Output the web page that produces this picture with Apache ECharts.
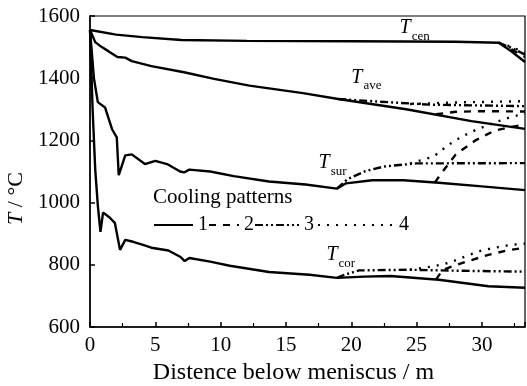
<!DOCTYPE html>
<html>
<head>
<meta charset="utf-8">
<script src="https://cdn.jsdelivr.net/npm/echarts@6/dist/echarts.min.js"></script>
<style>
  html, body { margin: 0; padding: 0; background: #fff; }
  #chart { width: 527px; height: 386px; }
</style>
</head>
<body>
<div id="chart"></div>
<script>
// [distance below meniscus (m), temperature (°C)]
// cooling pattern 1 (solid)
const cen1 = [[0,1555],[2,1540],[4,1532],[7,1523],[12,1520],[20,1519],[28,1517],[31.3,1514],[32.3,1485],[33.3,1452]];
const ave1 = [[0,1555],[0.4,1516],[0.9,1500],[1.4,1487],[2.1,1468],[2.7,1466],[3.2,1455],[4.7,1439],[7.2,1419],[9.5,1398],[12.2,1376],[16.3,1352],[19,1333],[24.2,1300],[29.2,1262],[33.3,1237]];
const sur1 = [[0,1555],[0.3,1400],[0.6,1323],[1.15,1306],[1.7,1235],[2.05,1210],[2.2,1088],[2.7,1152],[3.2,1155],[4.2,1124],[5,1134],[5.9,1124],[6.9,1100],[7.2,1097],[7.6,1106],[9.2,1100],[11,1085],[13.7,1068],[16.5,1058],[18.9,1045],[19.6,1062],[21.6,1072],[24,1072],[26.7,1064],[30,1052],[33.3,1040]];
const cor1 = [[0,1555],[0.2,1300],[0.4,1106],[0.6,990],[0.8,906],[1,968],[1.5,952],[1.9,935],[2.3,848],[2.7,880],[3.3,874],[4,865],[4.7,855],[6,846],[6.9,826],[7.25,812],[7.6,822],[9.2,810],[10.7,797],[13.7,777],[16.8,768],[18.9,758],[21,762],[23,764],[26.7,752],[30.5,731],[33.3,726]];
// cooling pattern 2 (dashed), branches off pattern 1
const cen2 = [[31.3,1514],[32.3,1492],[33.3,1468]];
const ave2 = [[26.5,1284],[28,1292],[30,1294],[33.3,1293]];
const sur2 = [[26.4,1065],[27,1100],[28,1155],[29.5,1200],[31,1232],[33.3,1252]];
const cor2 = [[26.5,753],[27,784],[28.8,810],[30.5,832],[32,847],[33.3,855]];
// cooling pattern 3 (dash-dot-dot)
const cen3 = [[31.3,1514],[32.3,1497],[33.3,1476]];
const ave3 = [[19,1333],[22,1325],[26,1315],[33.3,1310]];
const sur3 = [[18.9,1045],[19.7,1075],[21,1100],[22.5,1116],[25,1126],[33.3,1127]];
const cor3 = [[18.9,758],[19.5,768],[20.6,782],[24.5,784],[28,781],[33.3,778]];
// cooling pattern 4 (dotted), branches off pattern 3
const cen4 = [[31.3,1514],[32.3,1500],[33.3,1482]];
const ave4 = [[24.5,1317],[28,1322],[33.3,1326]];
const sur4 = [[24.5,1126],[26.3,1148],[27.5,1187],[28.5,1213],[29.6,1235],[31,1258],[32.2,1275],[33.3,1286]];
const cor4 = [[24.5,784],[26.3,795],[27.6,808],[28.9,830],[30,846],[31,855],[32.2,864],[33.3,868]];

const patterns = ['1', '2', '3', '4'];
const curveLabels = [
  { name: 'cen', coord: [23.7, 1562] },
  { name: 'ave', coord: [20.0, 1402] },
  { name: 'sur', coord: [17.5, 1128] },
  { name: 'cor', coord: [18.1, 831] }
];

const serif = 'Liberation Serif';
const dashes = ['solid', [7, 7], [8, 3, 2, 3, 2, 3], [2, 7]];
const curves = [
  [cen1, ave1, sur1, cor1],
  [cen2, ave2, sur2, cor2],
  [cen3, ave3, sur3, cor3],
  [cen4, ave4, sur4, cor4]
];

const rich = {
  t: { fontFamily: serif, fontStyle: 'italic', fontSize: 20, color: '#000' },
  s: { fontFamily: serif, fontSize: 13, color: '#000', padding: [17, 0, 0, 1] }
};

const series = [];
curves.forEach((group, p) => {
  group.forEach((d, k) => {
    const s = {
      name: patterns[p],
      type: 'line',
      data: d,
      symbol: 'none',
      silent: true,
      itemStyle: { color: '#000' },
      lineStyle: { color: '#000', width: 2.4, type: dashes[p] },
      z: 3 - p
    };
    if (p === 0) {
      const lb = curveLabels[k];
      s.markPoint = {
        symbolSize: 0,
        data: [{ coord: lb.coord }],
        label: {
          show: true,
          position: 'right',
          distance: 0,
          formatter: '{t|T}{s|' + lb.name + '}',
          rich: rich
        }
      };
    }
    series.push(s);
  });
});

// one legend per pattern so each sample line has its own length
const legendPos = [
  { left: 153, w: 39 },
  { left: 208, w: 30 },
  { left: 254, w: 44 },
  { left: 317, w: 76 }
];
const legends = patterns.map((p, i) => ({
  data: [p],
  left: legendPos[i].left,
  top: 215,
  padding: 0,
  itemWidth: legendPos[i].w,
  itemHeight: 14,
  selectedMode: false,
  itemStyle: { opacity: 0 },
  textStyle: { fontFamily: serif, fontSize: 20, color: '#000' }
}));

const chart = echarts.init(document.getElementById('chart'));
chart.setOption({
  animation: false,
  backgroundColor: '#fff',
  textStyle: { fontFamily: serif },
  grid: {
    left: 90, right: 2, top: 16, bottom: 59,
    outerBoundsMode: 'none',
    show: true, borderColor: '#000', borderWidth: 1.2
  },
  legend: legends,
  graphic: [{
    type: 'text',
    left: 153, top: 187,
    style: { text: 'Cooling patterns', fontFamily: serif, fontSize: 21, fill: '#000' }
  }],
  xAxis: {
    type: 'value',
    min: 0, max: 33.3, interval: 5,
    name: 'Distence below meniscus / m',
    nameLocation: 'middle',
    nameGap: 34,
    nameTextStyle: { fontFamily: serif, fontSize: 24, color: '#000', padding: [0, 28, 0, 0] },
    axisLine: { lineStyle: { color: '#000', width: 1.5 } },
    axisTick: { inside: true, length: 5, lineStyle: { color: '#000', width: 1.5 } },
    minorTick: { show: true, splitNumber: 2, length: 4, lineStyle: { color: '#000', width: 1.2 } },
    axisLabel: { showMaxLabel: false, margin: 8, fontFamily: serif, fontSize: 21, color: '#000' },
    splitLine: { show: false }
  },
  yAxis: {
    type: 'value',
    min: 600, max: 1600, interval: 200,
    name: '{i|T} / °C',
    nameLocation: 'middle',
    nameGap: 62,
    nameTextStyle: {
      fontFamily: serif, fontSize: 22, color: '#000', padding: [0, 54, 0, 0],
      rich: { i: { fontFamily: serif, fontStyle: 'italic', fontSize: 22, color: '#000' } }
    },
    axisLine: { show: true, lineStyle: { color: '#000', width: 1.5 } },
    axisTick: { show: true, inside: true, length: 5, lineStyle: { color: '#000', width: 1.5 } },
    axisLabel: {
      margin: 10, fontFamily: serif, fontSize: 21, color: '#000',
      formatter: (v) => String(v)
    },
    splitLine: { show: false }
  },
  series: series
});
</script>
</body>
</html>
